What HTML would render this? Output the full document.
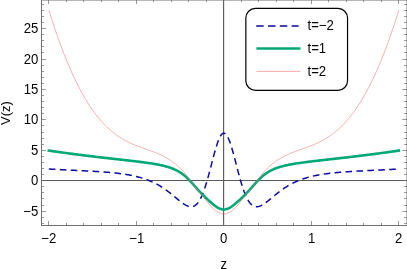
<!DOCTYPE html>
<html><head><meta charset="utf-8"><title>V(z)</title>
<style>
html,body{margin:0;padding:0;background:#fff;}
body{width:407px;height:269px;overflow:hidden;}
svg{display:block;}
text{font-family:"Liberation Sans",sans-serif;font-size:14px;fill:#000;}
</style></head><body>
<svg width="407" height="269" viewBox="0 0 407 269">
<rect width="407" height="269" fill="#fff"/>
<!-- axes -->
<g stroke="#5a5a5a" stroke-width="1.15" fill="none">
<path d="M41.5,180.45 H407.0"/>
<path d="M223.6,0.0 V225.5"/>
</g>
<!-- curves -->
<g fill="none" stroke-linejoin="round">
<path d="M48.85,169.03 L49.72,169.08 L50.60,169.12 L51.47,169.17 L52.35,169.22 L53.22,169.26 L54.10,169.31 L54.97,169.35 L55.85,169.40 L56.72,169.44 L57.60,169.49 L58.47,169.53 L59.35,169.57 L60.22,169.62 L61.10,169.66 L61.97,169.71 L62.85,169.75 L63.72,169.79 L64.60,169.83 L65.47,169.88 L66.35,169.92 L67.22,169.96 L68.10,170.01 L68.97,170.05 L69.85,170.09 L70.72,170.13 L71.60,170.18 L72.47,170.22 L73.35,170.26 L74.22,170.30 L75.10,170.35 L75.97,170.39 L76.85,170.43 L77.72,170.48 L78.60,170.52 L79.47,170.56 L80.35,170.61 L81.22,170.65 L82.10,170.70 L82.97,170.74 L83.85,170.78 L84.72,170.83 L85.60,170.88 L86.47,170.92 L87.35,170.97 L88.22,171.02 L89.10,171.06 L89.97,171.11 L90.85,171.16 L91.72,171.21 L92.60,171.26 L93.47,171.31 L94.35,171.36 L95.22,171.42 L96.10,171.47 L96.97,171.52 L97.85,171.58 L98.72,171.64 L99.60,171.70 L100.47,171.75 L101.35,171.82 L102.22,171.88 L103.10,171.94 L103.97,172.01 L104.85,172.07 L105.72,172.14 L106.60,172.21 L107.47,172.28 L108.35,172.35 L109.22,172.43 L110.10,172.51 L110.97,172.59 L111.85,172.67 L112.72,172.76 L113.60,172.84 L114.47,172.93 L115.35,173.02 L116.22,173.12 L117.10,173.22 L117.97,173.32 L118.85,173.43 L119.72,173.53 L120.60,173.65 L121.47,173.76 L122.35,173.88 L123.23,174.01 L124.10,174.13 L124.98,174.27 L125.85,174.40 L126.73,174.55 L127.60,174.69 L128.48,174.84 L129.35,175.00 L130.23,175.16 L131.10,175.33 L131.98,175.51 L132.85,175.69 L133.72,175.88 L134.60,176.07 L135.47,176.27 L136.35,176.48 L137.22,176.70 L138.10,176.92 L138.97,177.16 L139.85,177.40 L140.72,177.65 L141.60,177.91 L142.47,178.17 L143.35,178.45 L144.22,178.74 L145.10,179.04 L145.98,179.35 L146.85,179.66 L147.73,180.00 L148.60,180.34 L149.48,180.69 L150.35,181.06 L151.22,181.44 L152.10,181.83 L152.97,182.23 L153.85,182.65 L154.72,183.08 L155.60,183.53 L156.47,183.99 L157.35,184.46 L158.22,184.95 L159.10,185.46 L159.97,185.98 L160.85,186.51 L161.72,187.06 L162.60,187.62 L163.47,188.20 L164.35,188.80 L165.22,189.41 L166.10,190.03 L166.97,190.67 L167.85,191.32 L168.72,191.99 L169.60,192.66 L170.48,193.35 L171.35,194.05 L172.22,194.76 L173.10,195.48 L173.97,196.20 L174.85,196.93 L175.72,197.65 L176.60,198.38 L177.47,199.11 L178.35,199.83 L179.22,200.54 L180.10,201.24 L180.97,201.92 L181.85,202.58 L182.72,203.22 L183.60,203.82 L184.47,204.39 L185.35,204.91 L186.22,205.38 L187.10,205.80 L187.97,206.15 L188.85,206.43 L189.72,206.62 L190.60,206.73 L191.47,206.73 L192.35,206.63 L193.22,206.40 L194.10,206.04 L194.97,205.55 L195.85,204.91 L196.72,204.10 L197.60,203.13 L198.47,201.99 L199.35,200.66 L200.22,199.15 L201.10,197.44 L201.97,195.54 L202.85,193.44 L203.72,191.15 L204.60,188.68 L205.47,186.03 L206.35,183.21 L207.22,180.24 L208.10,177.13 L208.97,173.91 L209.85,170.60 L210.72,167.24 L211.60,163.84 L212.47,160.45 L213.35,157.10 L214.22,153.83 L215.10,150.68 L215.97,147.68 L216.85,144.87 L217.72,142.30 L218.60,139.98 L219.47,137.97 L220.35,136.28 L221.22,134.94 L222.10,133.97 L222.97,133.38 L223.85,133.18 L224.73,133.38 L225.60,133.97 L226.48,134.94 L227.35,136.28 L228.22,137.97 L229.10,139.98 L229.97,142.30 L230.85,144.87 L231.72,147.68 L232.60,150.68 L233.47,153.83 L234.35,157.10 L235.22,160.45 L236.10,163.84 L236.97,167.24 L237.85,170.60 L238.72,173.91 L239.60,177.13 L240.47,180.24 L241.35,183.21 L242.22,186.03 L243.10,188.68 L243.97,191.15 L244.85,193.44 L245.72,195.54 L246.60,197.44 L247.47,199.15 L248.35,200.66 L249.22,201.99 L250.10,203.13 L250.97,204.10 L251.85,204.91 L252.72,205.55 L253.60,206.04 L254.47,206.40 L255.35,206.63 L256.23,206.73 L257.10,206.73 L257.98,206.62 L258.85,206.43 L259.73,206.15 L260.60,205.80 L261.48,205.38 L262.35,204.91 L263.23,204.39 L264.10,203.82 L264.98,203.22 L265.85,202.58 L266.73,201.92 L267.60,201.24 L268.48,200.54 L269.35,199.83 L270.23,199.11 L271.10,198.38 L271.98,197.65 L272.85,196.93 L273.72,196.20 L274.60,195.48 L275.47,194.76 L276.35,194.05 L277.22,193.35 L278.10,192.66 L278.97,191.99 L279.85,191.32 L280.72,190.67 L281.60,190.03 L282.47,189.41 L283.35,188.80 L284.22,188.20 L285.10,187.62 L285.98,187.06 L286.85,186.51 L287.73,185.98 L288.60,185.46 L289.48,184.95 L290.35,184.46 L291.23,183.99 L292.10,183.53 L292.98,183.08 L293.85,182.65 L294.73,182.23 L295.60,181.83 L296.48,181.44 L297.35,181.06 L298.23,180.69 L299.10,180.34 L299.98,180.00 L300.85,179.66 L301.73,179.35 L302.60,179.04 L303.48,178.74 L304.35,178.45 L305.23,178.17 L306.10,177.91 L306.98,177.65 L307.85,177.40 L308.73,177.16 L309.60,176.92 L310.48,176.70 L311.35,176.48 L312.23,176.27 L313.10,176.07 L313.98,175.88 L314.85,175.69 L315.73,175.51 L316.60,175.33 L317.48,175.16 L318.35,175.00 L319.22,174.84 L320.10,174.69 L320.97,174.55 L321.85,174.40 L322.72,174.27 L323.60,174.13 L324.47,174.01 L325.35,173.88 L326.23,173.76 L327.10,173.65 L327.98,173.53 L328.85,173.43 L329.73,173.32 L330.60,173.22 L331.48,173.12 L332.35,173.02 L333.23,172.93 L334.10,172.84 L334.98,172.76 L335.85,172.67 L336.73,172.59 L337.60,172.51 L338.48,172.43 L339.35,172.35 L340.23,172.28 L341.10,172.21 L341.98,172.14 L342.85,172.07 L343.73,172.01 L344.60,171.94 L345.48,171.88 L346.35,171.82 L347.23,171.75 L348.10,171.70 L348.98,171.64 L349.85,171.58 L350.73,171.52 L351.60,171.47 L352.48,171.42 L353.35,171.36 L354.23,171.31 L355.10,171.26 L355.98,171.21 L356.85,171.16 L357.73,171.11 L358.60,171.06 L359.48,171.02 L360.35,170.97 L361.23,170.92 L362.10,170.88 L362.98,170.83 L363.85,170.78 L364.73,170.74 L365.60,170.70 L366.48,170.65 L367.35,170.61 L368.23,170.56 L369.10,170.52 L369.98,170.48 L370.85,170.43 L371.73,170.39 L372.60,170.35 L373.48,170.30 L374.35,170.26 L375.23,170.22 L376.10,170.18 L376.98,170.13 L377.85,170.09 L378.73,170.05 L379.60,170.01 L380.48,169.96 L381.35,169.92 L382.23,169.88 L383.10,169.83 L383.98,169.79 L384.85,169.75 L385.73,169.71 L386.60,169.66 L387.48,169.62 L388.35,169.57 L389.23,169.53 L390.10,169.49 L390.98,169.44 L391.85,169.40 L392.73,169.35 L393.60,169.31 L394.48,169.26 L395.35,169.22 L396.23,169.17 L397.10,169.12 L397.98,169.08 L398.85,169.03" stroke="#0a0aa5" stroke-width="1.5" stroke-dasharray="6.6 4.35"/>
<path d="M48.85,150.58 L49.72,150.71 L50.60,150.84 L51.47,150.96 L52.35,151.09 L53.22,151.22 L54.10,151.35 L54.97,151.47 L55.85,151.60 L56.72,151.72 L57.60,151.85 L58.47,151.97 L59.35,152.09 L60.22,152.22 L61.10,152.34 L61.97,152.46 L62.85,152.58 L63.72,152.70 L64.60,152.82 L65.47,152.94 L66.35,153.06 L67.22,153.18 L68.10,153.30 L68.97,153.42 L69.85,153.53 L70.72,153.65 L71.60,153.77 L72.47,153.88 L73.35,154.00 L74.22,154.11 L75.10,154.22 L75.97,154.34 L76.85,154.45 L77.72,154.56 L78.60,154.68 L79.47,154.79 L80.35,154.90 L81.22,155.01 L82.10,155.12 L82.97,155.23 L83.85,155.34 L84.72,155.45 L85.60,155.56 L86.47,155.66 L87.35,155.77 L88.22,155.88 L89.10,155.99 L89.97,156.09 L90.85,156.20 L91.72,156.30 L92.60,156.41 L93.47,156.51 L94.35,156.62 L95.22,156.72 L96.10,156.83 L96.97,156.93 L97.85,157.03 L98.72,157.13 L99.60,157.24 L100.47,157.34 L101.35,157.44 L102.22,157.54 L103.10,157.64 L103.97,157.74 L104.85,157.84 L105.72,157.94 L106.60,158.04 L107.47,158.14 L108.35,158.24 L109.22,158.34 L110.10,158.44 L110.97,158.54 L111.85,158.64 L112.72,158.74 L113.60,158.84 L114.47,158.93 L115.35,159.03 L116.22,159.13 L117.10,159.23 L117.97,159.33 L118.85,159.42 L119.72,159.52 L120.60,159.62 L121.47,159.72 L122.35,159.82 L123.23,159.92 L124.10,160.01 L124.98,160.11 L125.85,160.21 L126.73,160.31 L127.60,160.41 L128.48,160.51 L129.35,160.61 L130.23,160.71 L131.10,160.81 L131.98,160.92 L132.85,161.02 L133.72,161.12 L134.60,161.22 L135.47,161.33 L136.35,161.43 L137.22,161.54 L138.10,161.65 L138.97,161.76 L139.85,161.86 L140.72,161.97 L141.60,162.09 L142.47,162.20 L143.35,162.31 L144.22,162.43 L145.10,162.55 L145.98,162.67 L146.85,162.79 L147.73,162.92 L148.60,163.04 L149.48,163.17 L150.35,163.30 L151.22,163.44 L152.10,163.57 L152.97,163.72 L153.85,163.86 L154.72,164.01 L155.60,164.16 L156.47,164.32 L157.35,164.48 L158.22,164.65 L159.10,164.82 L159.97,165.00 L160.85,165.19 L161.72,165.38 L162.60,165.58 L163.47,165.78 L164.35,166.00 L165.22,166.23 L166.10,166.46 L166.97,166.71 L167.85,166.97 L168.72,167.24 L169.60,167.52 L170.48,167.82 L171.35,168.13 L172.22,168.46 L173.10,168.81 L173.97,169.18 L174.85,169.57 L175.72,169.98 L176.60,170.41 L177.47,170.87 L178.35,171.35 L179.22,171.87 L180.10,172.41 L180.97,172.98 L181.85,173.59 L182.72,174.23 L183.60,174.90 L184.47,175.61 L185.35,176.35 L186.22,177.13 L187.10,177.94 L187.97,178.79 L188.85,179.66 L189.72,180.57 L190.60,181.49 L191.47,182.45 L192.35,183.42 L193.22,184.40 L194.10,185.39 L194.97,186.38 L195.85,187.38 L196.72,188.37 L197.60,189.35 L198.47,190.32 L199.35,191.27 L200.22,192.21 L201.10,193.13 L201.97,194.03 L202.85,194.91 L203.72,195.78 L204.60,196.63 L205.47,197.47 L206.35,198.29 L207.22,199.11 L208.10,199.91 L208.97,200.70 L209.85,201.48 L210.72,202.25 L211.60,203.01 L212.47,203.75 L213.35,204.47 L214.22,205.16 L215.10,205.83 L215.97,206.46 L216.85,207.04 L217.72,207.58 L218.60,208.06 L219.47,208.49 L220.35,208.84 L221.22,209.12 L222.10,209.33 L222.97,209.45 L223.85,209.49 L224.73,209.45 L225.60,209.33 L226.48,209.12 L227.35,208.84 L228.22,208.49 L229.10,208.06 L229.97,207.58 L230.85,207.04 L231.72,206.46 L232.60,205.83 L233.47,205.16 L234.35,204.47 L235.22,203.75 L236.10,203.01 L236.97,202.25 L237.85,201.48 L238.72,200.70 L239.60,199.91 L240.47,199.11 L241.35,198.29 L242.22,197.47 L243.10,196.63 L243.97,195.78 L244.85,194.91 L245.72,194.03 L246.60,193.13 L247.47,192.21 L248.35,191.27 L249.22,190.32 L250.10,189.35 L250.97,188.37 L251.85,187.38 L252.72,186.38 L253.60,185.39 L254.47,184.40 L255.35,183.42 L256.23,182.45 L257.10,181.49 L257.98,180.57 L258.85,179.66 L259.73,178.79 L260.60,177.94 L261.48,177.13 L262.35,176.35 L263.23,175.61 L264.10,174.90 L264.98,174.23 L265.85,173.59 L266.73,172.98 L267.60,172.41 L268.48,171.87 L269.35,171.35 L270.23,170.87 L271.10,170.41 L271.98,169.98 L272.85,169.57 L273.72,169.18 L274.60,168.81 L275.47,168.46 L276.35,168.13 L277.22,167.82 L278.10,167.52 L278.97,167.24 L279.85,166.97 L280.72,166.71 L281.60,166.46 L282.47,166.23 L283.35,166.00 L284.22,165.78 L285.10,165.58 L285.98,165.38 L286.85,165.19 L287.73,165.00 L288.60,164.82 L289.48,164.65 L290.35,164.48 L291.23,164.32 L292.10,164.16 L292.98,164.01 L293.85,163.86 L294.73,163.72 L295.60,163.57 L296.48,163.44 L297.35,163.30 L298.23,163.17 L299.10,163.04 L299.98,162.92 L300.85,162.79 L301.73,162.67 L302.60,162.55 L303.48,162.43 L304.35,162.31 L305.23,162.20 L306.10,162.09 L306.98,161.97 L307.85,161.86 L308.73,161.76 L309.60,161.65 L310.48,161.54 L311.35,161.43 L312.23,161.33 L313.10,161.22 L313.98,161.12 L314.85,161.02 L315.73,160.92 L316.60,160.81 L317.48,160.71 L318.35,160.61 L319.22,160.51 L320.10,160.41 L320.97,160.31 L321.85,160.21 L322.72,160.11 L323.60,160.01 L324.47,159.92 L325.35,159.82 L326.23,159.72 L327.10,159.62 L327.98,159.52 L328.85,159.42 L329.73,159.33 L330.60,159.23 L331.48,159.13 L332.35,159.03 L333.23,158.93 L334.10,158.84 L334.98,158.74 L335.85,158.64 L336.73,158.54 L337.60,158.44 L338.48,158.34 L339.35,158.24 L340.23,158.14 L341.10,158.04 L341.98,157.94 L342.85,157.84 L343.73,157.74 L344.60,157.64 L345.48,157.54 L346.35,157.44 L347.23,157.34 L348.10,157.24 L348.98,157.13 L349.85,157.03 L350.73,156.93 L351.60,156.83 L352.48,156.72 L353.35,156.62 L354.23,156.51 L355.10,156.41 L355.98,156.30 L356.85,156.20 L357.73,156.09 L358.60,155.99 L359.48,155.88 L360.35,155.77 L361.23,155.66 L362.10,155.56 L362.98,155.45 L363.85,155.34 L364.73,155.23 L365.60,155.12 L366.48,155.01 L367.35,154.90 L368.23,154.79 L369.10,154.68 L369.98,154.56 L370.85,154.45 L371.73,154.34 L372.60,154.22 L373.48,154.11 L374.35,154.00 L375.23,153.88 L376.10,153.77 L376.98,153.65 L377.85,153.53 L378.73,153.42 L379.60,153.30 L380.48,153.18 L381.35,153.06 L382.23,152.94 L383.10,152.82 L383.98,152.70 L384.85,152.58 L385.73,152.46 L386.60,152.34 L387.48,152.22 L388.35,152.09 L389.23,151.97 L390.10,151.85 L390.98,151.72 L391.85,151.60 L392.73,151.47 L393.60,151.35 L394.48,151.22 L395.35,151.09 L396.23,150.96 L397.10,150.84 L397.98,150.71 L398.85,150.58" stroke="#03a877" stroke-width="2.6" stroke-linecap="square"/>
<path d="M48.85,10.08 L49.72,12.90 L50.60,15.68 L51.47,18.43 L52.35,21.14 L53.22,23.82 L54.10,26.46 L54.97,29.07 L55.85,31.65 L56.72,34.18 L57.60,36.69 L58.47,39.15 L59.35,41.59 L60.22,43.99 L61.10,46.35 L61.97,48.68 L62.85,50.98 L63.72,53.24 L64.60,55.47 L65.47,57.67 L66.35,59.83 L67.22,61.96 L68.10,64.06 L68.97,66.12 L69.85,68.15 L70.72,70.15 L71.60,72.12 L72.47,74.05 L73.35,75.95 L74.22,77.82 L75.10,79.66 L75.97,81.47 L76.85,83.24 L77.72,84.99 L78.60,86.70 L79.47,88.39 L80.35,90.04 L81.22,91.66 L82.10,93.26 L82.97,94.82 L83.85,96.35 L84.72,97.86 L85.60,99.33 L86.47,100.78 L87.35,102.20 L88.22,103.59 L89.10,104.95 L89.97,106.29 L90.85,107.59 L91.72,108.87 L92.60,110.12 L93.47,111.35 L94.35,112.55 L95.22,113.72 L96.10,114.87 L96.97,115.99 L97.85,117.09 L98.72,118.16 L99.60,119.21 L100.47,120.23 L101.35,121.23 L102.22,122.20 L103.10,123.15 L103.97,124.08 L104.85,124.99 L105.72,125.87 L106.60,126.73 L107.47,127.57 L108.35,128.38 L109.22,129.18 L110.10,129.96 L110.97,130.71 L111.85,131.45 L112.72,132.16 L113.60,132.86 L114.47,133.54 L115.35,134.20 L116.22,134.84 L117.10,135.46 L117.97,136.07 L118.85,136.66 L119.72,137.23 L120.60,137.79 L121.47,138.33 L122.35,138.86 L123.23,139.37 L124.10,139.87 L124.98,140.36 L125.85,140.83 L126.73,141.28 L127.60,141.73 L128.48,142.16 L129.35,142.59 L130.23,143.00 L131.10,143.40 L131.98,143.79 L132.85,144.17 L133.72,144.55 L134.60,144.91 L135.47,145.27 L136.35,145.62 L137.22,145.96 L138.10,146.30 L138.97,146.63 L139.85,146.96 L140.72,147.28 L141.60,147.60 L142.47,147.92 L143.35,148.23 L144.22,148.54 L145.10,148.85 L145.98,149.16 L146.85,149.47 L147.73,149.78 L148.60,150.09 L149.48,150.40 L150.35,150.71 L151.22,151.03 L152.10,151.35 L152.97,151.67 L153.85,152.00 L154.72,152.34 L155.60,152.68 L156.47,153.03 L157.35,153.39 L158.22,153.76 L159.10,154.14 L159.97,154.52 L160.85,154.92 L161.72,155.33 L162.60,155.75 L163.47,156.19 L164.35,156.63 L165.22,157.10 L166.10,157.58 L166.97,158.07 L167.85,158.59 L168.72,159.12 L169.60,159.67 L170.48,160.24 L171.35,160.83 L172.22,161.44 L173.10,162.07 L173.97,162.73 L174.85,163.41 L175.72,164.12 L176.60,164.85 L177.47,165.61 L178.35,166.40 L179.22,167.21 L180.10,168.06 L180.97,168.94 L181.85,169.85 L182.72,170.80 L183.60,171.78 L184.47,172.80 L185.35,173.86 L186.22,174.96 L187.10,176.10 L187.97,177.27 L188.85,178.48 L189.72,179.71 L190.60,180.96 L191.47,182.21 L192.35,183.45 L193.22,184.65 L194.10,185.81 L194.97,186.92 L195.85,187.99 L196.72,189.04 L197.60,190.06 L198.47,191.09 L199.35,192.12 L200.22,193.17 L201.10,194.23 L201.97,195.31 L202.85,196.40 L203.72,197.50 L204.60,198.60 L205.47,199.69 L206.35,200.79 L207.22,201.87 L208.10,202.93 L208.97,203.97 L209.85,204.98 L210.72,205.96 L211.60,206.90 L212.47,207.80 L213.35,208.65 L214.22,209.45 L215.10,210.20 L215.97,210.89 L216.85,211.52 L217.72,212.08 L218.60,212.57 L219.47,212.99 L220.35,213.34 L221.22,213.61 L222.10,213.81 L222.97,213.92 L223.85,213.96 L224.73,213.92 L225.60,213.81 L226.48,213.61 L227.35,213.34 L228.22,212.99 L229.10,212.57 L229.97,212.08 L230.85,211.52 L231.72,210.89 L232.60,210.20 L233.47,209.45 L234.35,208.65 L235.22,207.80 L236.10,206.90 L236.97,205.96 L237.85,204.98 L238.72,203.97 L239.60,202.93 L240.47,201.87 L241.35,200.79 L242.22,199.69 L243.10,198.60 L243.97,197.50 L244.85,196.40 L245.72,195.31 L246.60,194.23 L247.47,193.17 L248.35,192.12 L249.22,191.09 L250.10,190.06 L250.97,189.04 L251.85,187.99 L252.72,186.92 L253.60,185.81 L254.47,184.65 L255.35,183.45 L256.23,182.21 L257.10,180.96 L257.98,179.71 L258.85,178.48 L259.73,177.27 L260.60,176.10 L261.48,174.96 L262.35,173.86 L263.23,172.80 L264.10,171.78 L264.98,170.80 L265.85,169.85 L266.73,168.94 L267.60,168.06 L268.48,167.21 L269.35,166.40 L270.23,165.61 L271.10,164.85 L271.98,164.12 L272.85,163.41 L273.72,162.73 L274.60,162.07 L275.47,161.44 L276.35,160.83 L277.22,160.24 L278.10,159.67 L278.97,159.12 L279.85,158.59 L280.72,158.07 L281.60,157.58 L282.47,157.10 L283.35,156.63 L284.22,156.19 L285.10,155.75 L285.98,155.33 L286.85,154.92 L287.73,154.52 L288.60,154.14 L289.48,153.76 L290.35,153.39 L291.23,153.03 L292.10,152.68 L292.98,152.34 L293.85,152.00 L294.73,151.67 L295.60,151.35 L296.48,151.03 L297.35,150.71 L298.23,150.40 L299.10,150.09 L299.98,149.78 L300.85,149.47 L301.73,149.16 L302.60,148.85 L303.48,148.54 L304.35,148.23 L305.23,147.92 L306.10,147.60 L306.98,147.28 L307.85,146.96 L308.73,146.63 L309.60,146.30 L310.48,145.96 L311.35,145.62 L312.23,145.27 L313.10,144.91 L313.98,144.55 L314.85,144.17 L315.73,143.79 L316.60,143.40 L317.48,143.00 L318.35,142.59 L319.22,142.16 L320.10,141.73 L320.97,141.28 L321.85,140.83 L322.72,140.36 L323.60,139.87 L324.47,139.37 L325.35,138.86 L326.23,138.33 L327.10,137.79 L327.98,137.23 L328.85,136.66 L329.73,136.07 L330.60,135.46 L331.48,134.84 L332.35,134.20 L333.23,133.54 L334.10,132.86 L334.98,132.16 L335.85,131.45 L336.73,130.71 L337.60,129.96 L338.48,129.18 L339.35,128.38 L340.23,127.57 L341.10,126.73 L341.98,125.87 L342.85,124.99 L343.73,124.08 L344.60,123.15 L345.48,122.20 L346.35,121.23 L347.23,120.23 L348.10,119.21 L348.98,118.16 L349.85,117.09 L350.73,115.99 L351.60,114.87 L352.48,113.72 L353.35,112.55 L354.23,111.35 L355.10,110.12 L355.98,108.87 L356.85,107.59 L357.73,106.29 L358.60,104.95 L359.48,103.59 L360.35,102.20 L361.23,100.78 L362.10,99.33 L362.98,97.86 L363.85,96.35 L364.73,94.82 L365.60,93.26 L366.48,91.66 L367.35,90.04 L368.23,88.39 L369.10,86.70 L369.98,84.99 L370.85,83.24 L371.73,81.47 L372.60,79.66 L373.48,77.82 L374.35,75.95 L375.23,74.05 L376.10,72.12 L376.98,70.15 L377.85,68.15 L378.73,66.12 L379.60,64.06 L380.48,61.96 L381.35,59.83 L382.23,57.67 L383.10,55.47 L383.98,53.24 L384.85,50.98 L385.73,48.68 L386.60,46.35 L387.48,43.99 L388.35,41.59 L389.23,39.15 L390.10,36.69 L390.98,34.18 L391.85,31.65 L392.73,29.07 L393.60,26.46 L394.48,23.82 L395.35,21.14 L396.23,18.43 L397.10,15.68 L397.98,12.90 L398.85,10.08" stroke="#f06a6a" stroke-width="0.55"/>
</g>
<!-- frame -->
<rect x="41.5" y="0.0" width="365.5" height="225.5" fill="none" stroke="#707070" stroke-width="1"/>
<g stroke="#6a6a6a" stroke-width="0.7" fill="none">
<path d="M48.5,225.5 v-4.4 M48.5,0.0 v4.0"/>
<path d="M66.5,225.5 v-2.6 M66.5,0.0 v2.2"/>
<path d="M83.5,225.5 v-2.6 M83.5,0.0 v2.2"/>
<path d="M101.5,225.5 v-2.6 M101.5,0.0 v2.2"/>
<path d="M118.5,225.5 v-2.6 M118.5,0.0 v2.2"/>
<path d="M136.5,225.5 v-4.4 M136.5,0.0 v4.0"/>
<path d="M153.5,225.5 v-2.6 M153.5,0.0 v2.2"/>
<path d="M171.5,225.5 v-2.6 M171.5,0.0 v2.2"/>
<path d="M188.5,225.5 v-2.6 M188.5,0.0 v2.2"/>
<path d="M206.5,225.5 v-2.6 M206.5,0.0 v2.2"/>
<path d="M223.5,225.5 v-4.4 M223.5,0.0 v4.0"/>
<path d="M241.5,225.5 v-2.6 M241.5,0.0 v2.2"/>
<path d="M258.5,225.5 v-2.6 M258.5,0.0 v2.2"/>
<path d="M276.5,225.5 v-2.6 M276.5,0.0 v2.2"/>
<path d="M293.5,225.5 v-2.6 M293.5,0.0 v2.2"/>
<path d="M311.5,225.5 v-4.4 M311.5,0.0 v4.0"/>
<path d="M328.5,225.5 v-2.6 M328.5,0.0 v2.2"/>
<path d="M346.5,225.5 v-2.6 M346.5,0.0 v2.2"/>
<path d="M363.5,225.5 v-2.6 M363.5,0.0 v2.2"/>
<path d="M381.5,225.5 v-2.6 M381.5,0.0 v2.2"/>
<path d="M398.5,225.5 v-4.4 M398.5,0.0 v4.0"/>
<path d="M41.5,223.5 h2.5 M407.0,223.5 h-2.9"/>
<path d="M41.5,217.5 h2.5 M407.0,217.5 h-2.9"/>
<path d="M41.5,211.5 h4.3 M407.0,211.5 h-4.7"/>
<path d="M41.5,205.5 h2.5 M407.0,205.5 h-2.9"/>
<path d="M41.5,198.5 h2.5 M407.0,198.5 h-2.9"/>
<path d="M41.5,192.5 h2.5 M407.0,192.5 h-2.9"/>
<path d="M41.5,186.5 h2.5 M407.0,186.5 h-2.9"/>
<path d="M41.5,180.5 h4.3 M407.0,180.5 h-4.7"/>
<path d="M41.5,174.5 h2.5 M407.0,174.5 h-2.9"/>
<path d="M41.5,168.5 h2.5 M407.0,168.5 h-2.9"/>
<path d="M41.5,162.5 h2.5 M407.0,162.5 h-2.9"/>
<path d="M41.5,156.5 h2.5 M407.0,156.5 h-2.9"/>
<path d="M41.5,150.5 h4.3 M407.0,150.5 h-4.7"/>
<path d="M41.5,144.5 h2.5 M407.0,144.5 h-2.9"/>
<path d="M41.5,138.5 h2.5 M407.0,138.5 h-2.9"/>
<path d="M41.5,132.5 h2.5 M407.0,132.5 h-2.9"/>
<path d="M41.5,125.5 h2.5 M407.0,125.5 h-2.9"/>
<path d="M41.5,119.5 h4.3 M407.0,119.5 h-4.7"/>
<path d="M41.5,113.5 h2.5 M407.0,113.5 h-2.9"/>
<path d="M41.5,107.5 h2.5 M407.0,107.5 h-2.9"/>
<path d="M41.5,101.5 h2.5 M407.0,101.5 h-2.9"/>
<path d="M41.5,95.5 h2.5 M407.0,95.5 h-2.9"/>
<path d="M41.5,89.5 h4.3 M407.0,89.5 h-4.7"/>
<path d="M41.5,83.5 h2.5 M407.0,83.5 h-2.9"/>
<path d="M41.5,77.5 h2.5 M407.0,77.5 h-2.9"/>
<path d="M41.5,71.5 h2.5 M407.0,71.5 h-2.9"/>
<path d="M41.5,65.5 h2.5 M407.0,65.5 h-2.9"/>
<path d="M41.5,59.5 h4.3 M407.0,59.5 h-4.7"/>
<path d="M41.5,52.5 h2.5 M407.0,52.5 h-2.9"/>
<path d="M41.5,46.5 h2.5 M407.0,46.5 h-2.9"/>
<path d="M41.5,40.5 h2.5 M407.0,40.5 h-2.9"/>
<path d="M41.5,34.5 h2.5 M407.0,34.5 h-2.9"/>
<path d="M41.5,28.5 h4.3 M407.0,28.5 h-4.7"/>
<path d="M41.5,22.5 h2.5 M407.0,22.5 h-2.9"/>
<path d="M41.5,16.5 h2.5 M407.0,16.5 h-2.9"/>
<path d="M41.5,10.5 h2.5 M407.0,10.5 h-2.9"/>
<path d="M41.5,4.5 h2.5 M407.0,4.5 h-2.9"/>
</g>
<!-- legend -->
<rect x="245.85" y="8.45" width="101.7" height="81.85" rx="9.5" ry="9.5" fill="#fff" stroke="#000" stroke-width="1.2"/>
<path d="M256.2,26 H298.6" stroke="#0a0aa5" stroke-width="1.6" stroke-dasharray="7.5 4.3" fill="none"/>
<path d="M256.4,48.6 H300.5" stroke="#03a877" stroke-width="2.5" fill="none"/>
<path d="M256.4,71.4 H300.5" stroke="#f06a6a" stroke-width="0.55" fill="none"/>
<!-- text -->
<g opacity="0.99">
<text transform="translate(48.70,242.80) scale(0.94,1)" text-anchor="middle">−2</text>
<text transform="translate(136.70,242.80) scale(0.94,1)" text-anchor="middle">−1</text>
<text transform="translate(223.70,242.80) scale(0.94,1)" text-anchor="middle">0</text>
<text transform="translate(311.70,242.80) scale(0.94,1)" text-anchor="middle">1</text>
<text transform="translate(398.70,242.80) scale(0.94,1)" text-anchor="middle">2</text>
<text transform="translate(38.30,216.00) scale(0.94,1)" text-anchor="end">−5</text>
<text transform="translate(38.30,185.00) scale(0.94,1)" text-anchor="end">0</text>
<text transform="translate(38.30,155.00) scale(0.94,1)" text-anchor="end">5</text>
<text transform="translate(38.30,124.00) scale(0.94,1)" text-anchor="end">10</text>
<text transform="translate(38.30,94.00) scale(0.94,1)" text-anchor="end">15</text>
<text transform="translate(38.30,64.00) scale(0.94,1)" text-anchor="end">20</text>
<text transform="translate(38.30,33.00) scale(0.94,1)" text-anchor="end">25</text>
<text transform="translate(223.80,268.90) scale(0.94,1)" text-anchor="middle">z</text>
<text transform="translate(10.3,113) rotate(-90)" text-anchor="middle" style="font-size:13px">V(z)</text>
<text transform="translate(307.50,30.05) scale(0.94,1)" text-anchor="start">t=−2</text>
<text transform="translate(307.50,52.80) scale(0.94,1)" text-anchor="start">t=1</text>
<text transform="translate(307.50,75.50) scale(0.94,1)" text-anchor="start">t=2</text>
</g>
</svg>
</body></html>
